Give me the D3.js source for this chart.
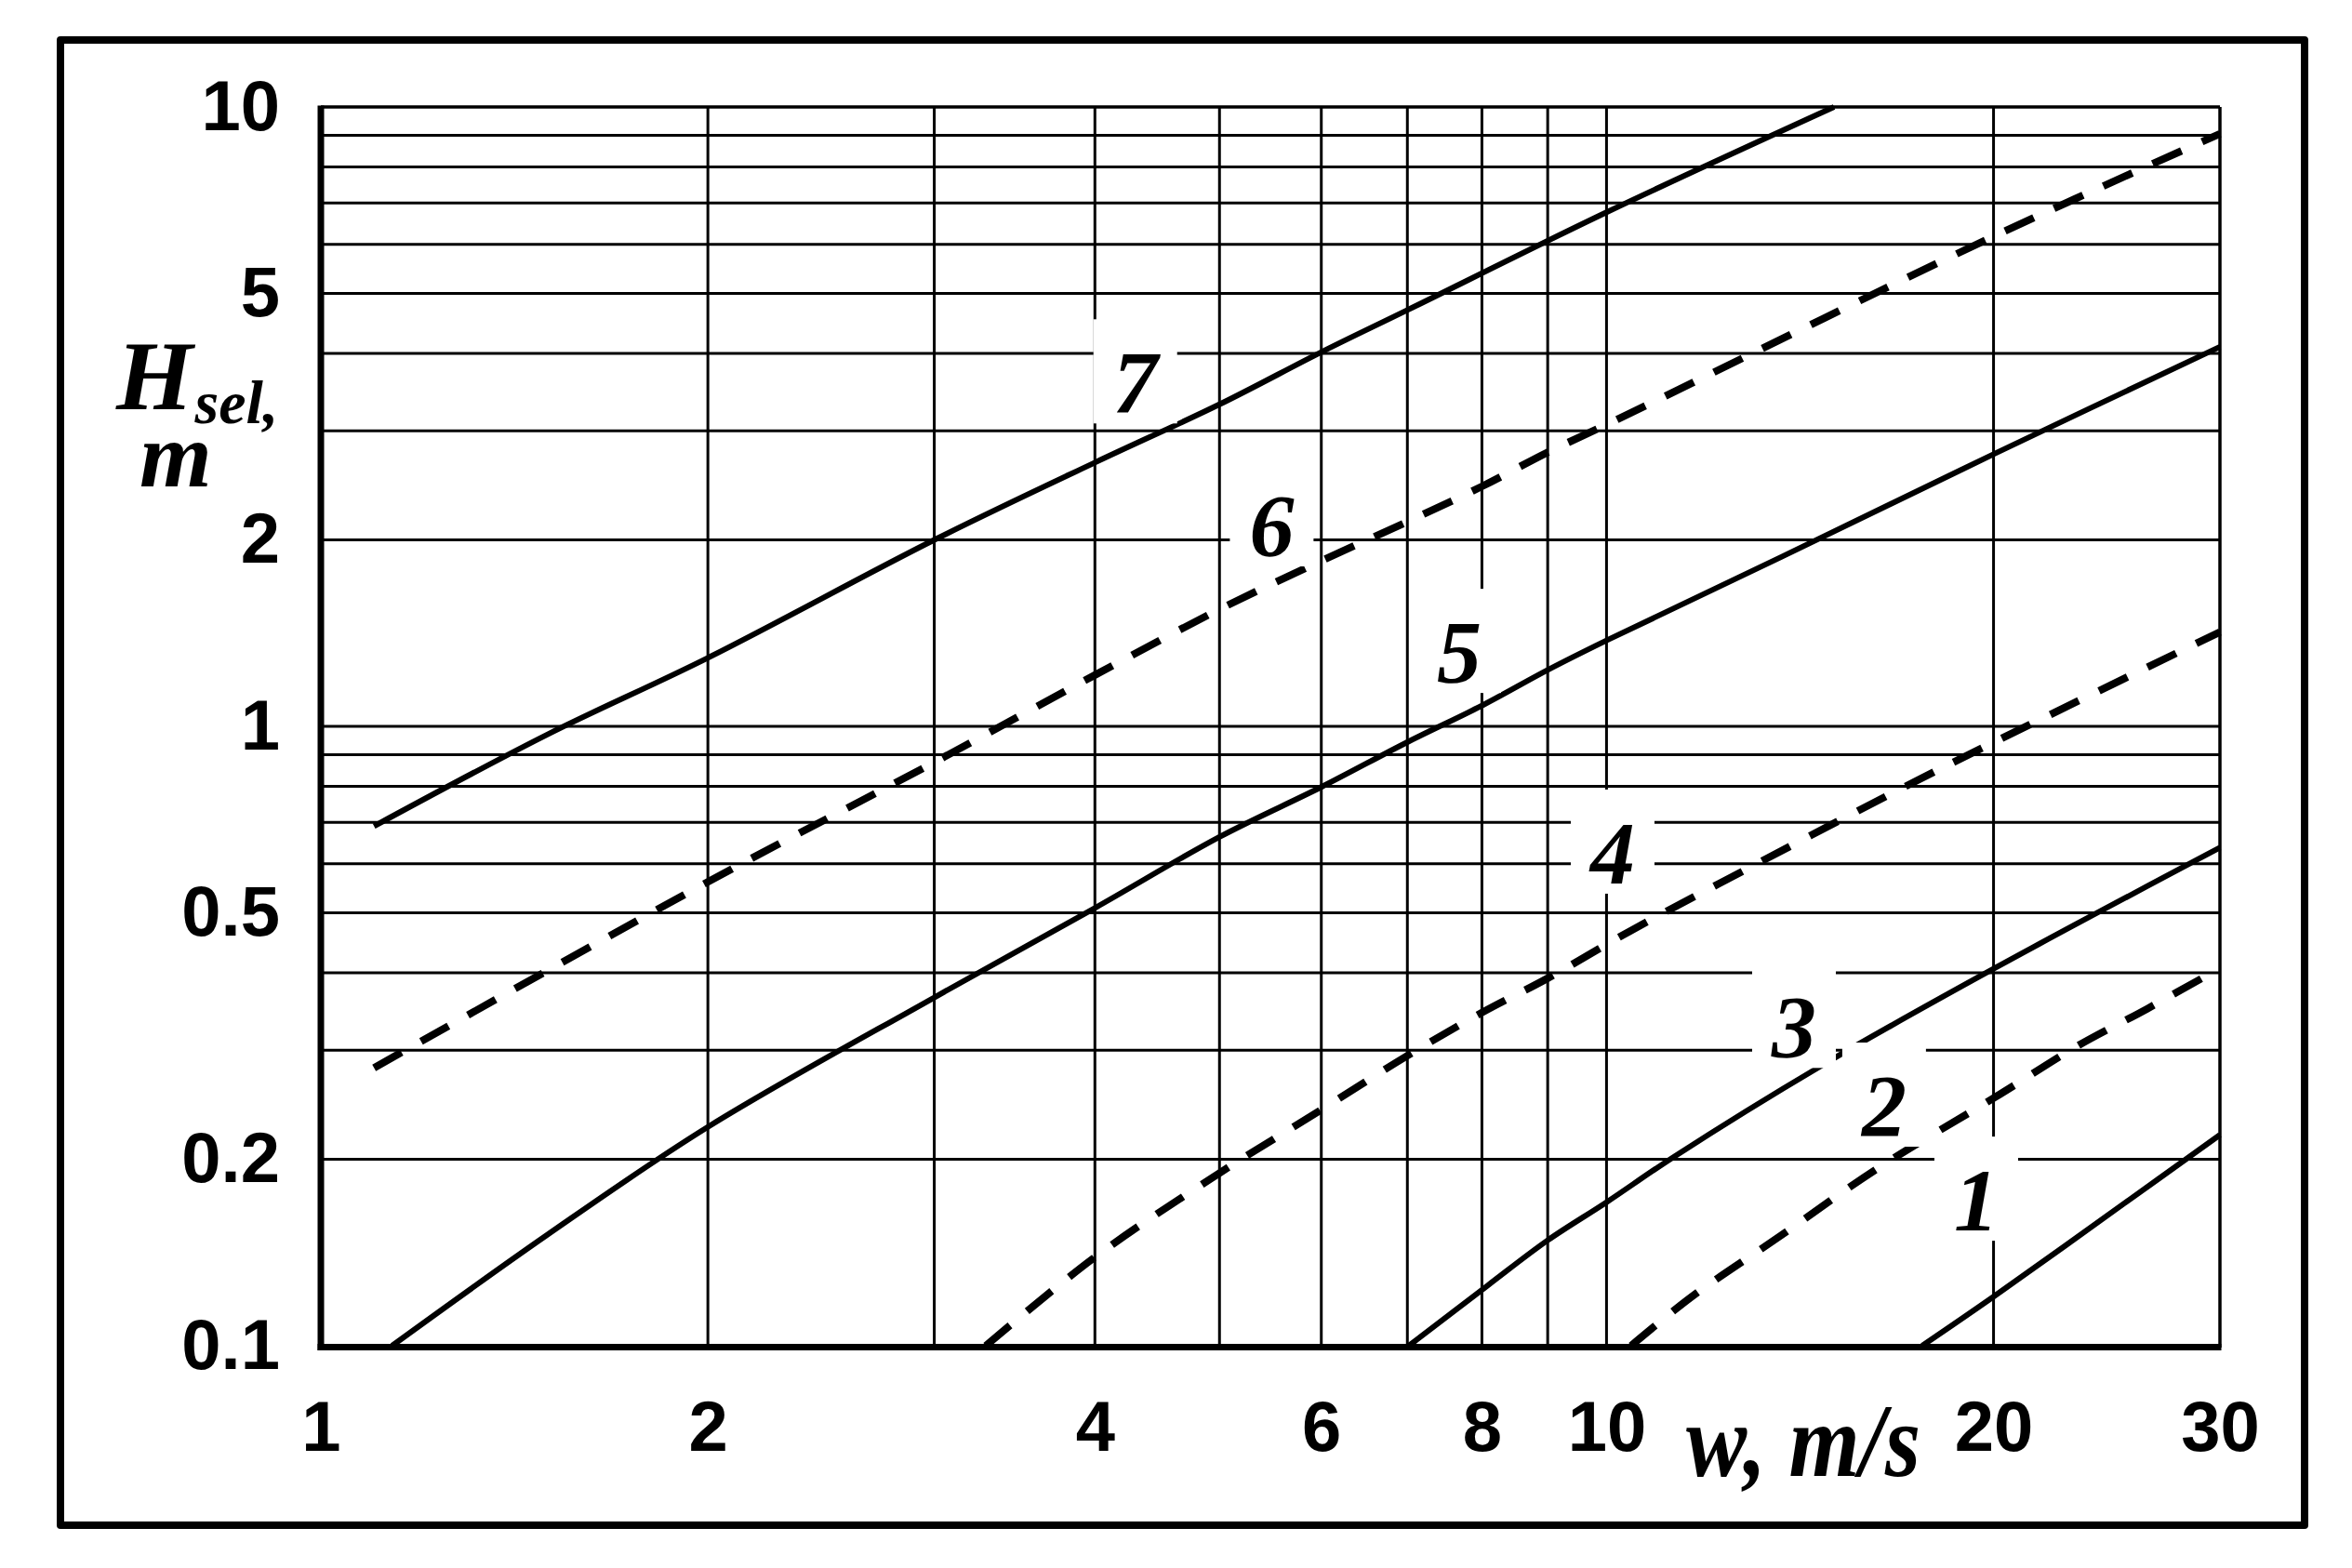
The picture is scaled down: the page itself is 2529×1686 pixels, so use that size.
<!DOCTYPE html>
<html><head><meta charset="utf-8">
<script src="https://cdn.jsdelivr.net/npm/d3@7"></script>
<style>body{margin:0;background:#fff;} svg{display:block;}</style>
</head><body>
<svg id="chart" width="2529" height="1686"></svg>
<script>
// Axis ticks and grid values
const wTicks = [1, 2, 4, 6, 8, 10, 20, 30];
const hTicks = [0.1, 0.2, 0.5, 1, 2, 5, 10];
const wGrid = [2, 3, 4, 5, 6, 7, 8, 9, 10, 20];
const hGrid = [0.2, 0.3, 0.4, 0.5, 0.6, 0.7, 0.8, 0.9, 1, 2, 3, 4, 5, 6, 7, 8, 9];

// Curves (w in m/s, H_sel in m)
const curve1W = [17.6, 20, 25, 30];
const curve1H = [0.1, 0.12, 0.167, 0.219];
const curve2W = [10.45, 11.65, 13.69, 16.23, 20.25, 23.2, 26.34, 30];
const curve2H = [0.1, 0.12, 0.151, 0.193, 0.255, 0.304, 0.35, 0.407];
const curve3W = [7.02, 8.09, 9, 10, 11.28, 14.66, 20, 30];
const curve3H = [0.1, 0.1253, 0.148, 0.1705, 0.2018, 0.2824, 0.406, 0.637];
const curve4W = [3.29, 4, 5, 6, 7, 8, 9, 10.43, 13.35, 17, 20, 30];
const curve4H = [0.1, 0.139, 0.19, 0.2404, 0.294, 0.345, 0.392, 0.467, 0.613, 0.796, 0.942, 1.42];
const curve5W = [1.136, 1.5, 2, 3, 4, 5, 6, 7, 8, 9, 10, 13.7, 20, 30];
const curve5H = [0.1, 0.151, 0.2255, 0.365, 0.509, 0.663, 0.798, 0.943, 1.08, 1.233, 1.376, 1.88, 2.75, 4.1];
const curve6W = [1.1, 2, 3, 4, 5, 6, 7, 8, 9, 10, 20, 30];
const curve6H = [0.281, 0.561, 0.875, 1.21, 1.545, 1.85, 2.14, 2.44, 2.77, 3.07, 6.18, 9.05];
const curve7W = [1.1, 1.5, 2, 3, 4, 5, 6, 7, 10, 15.03];
const curve7H = [0.69, 0.97, 1.29, 2.0, 2.666, 3.31, 4.02, 4.70, 6.76, 10];

const curveNames = ["1", "2", "3", "4", "5", "6", "7"];
const curveDashed = [false, true, false, true, false, true, false];
const labelW = [19.39, 16.44, 13.99, 10.11, 7.68, 5.49, 4.30];
const labelH = [0.172, 0.244, 0.327, 0.625, 1.318, 2.11, 3.59];

const curvesW = [curve1W, curve2W, curve3W, curve4W, curve5W, curve6W, curve7W];
const curvesH = [curve1H, curve2H, curve3H, curve4H, curve5H, curve6H, curve7H];

const svg = d3.select("#chart");
const x = d3.scaleLog().domain([1, 30]).range([345, 2387]);
const y = d3.scaleLog().domain([0.1, 10]).range([1447, 115]);

const sansFont = "'Liberation Sans', Arial, sans-serif";
const serifFont = "'Liberation Serif', 'Times New Roman', serif";

svg.append("rect").attr("x", 0).attr("y", 0).attr("width", 2529).attr("height", 1686).attr("fill", "#fff");

// outer frame
svg.append("rect").attr("x", 65).attr("y", 43).attr("width", 2413).attr("height", 1597)
  .attr("fill", "none").attr("stroke", "#000").attr("stroke-width", 8).attr("stroke-linejoin", "round");

// grid
const grid = svg.append("g").attr("stroke", "#000").attr("stroke-width", 3);
grid.selectAll("line.v").data(wGrid).join("line").attr("class", "v")
  .attr("x1", d => x(d)).attr("x2", d => x(d)).attr("y1", y(10)).attr("y2", y(0.1));
grid.selectAll("line.h").data(hGrid).join("line").attr("class", "h")
  .attr("x1", x(1)).attr("x2", x(30)).attr("y1", d => y(d)).attr("y2", d => y(d));

// plot borders
const [x0, x1] = x.range();
const [yb, yt] = y.range();
svg.append("line").attr("x1", x0).attr("x2", x1).attr("y1", yt).attr("y2", yt).attr("stroke", "#000").attr("stroke-width", 3.5);
svg.append("line").attr("x1", x1).attr("x2", x1).attr("y1", yt).attr("y2", yb + 2).attr("stroke", "#000").attr("stroke-width", 3.5);
svg.append("line").attr("x1", x0).attr("x2", x0).attr("y1", yt - 1.5).attr("y2", yb + 5).attr("stroke", "#000").attr("stroke-width", 7);
svg.append("line").attr("x1", x0 - 3.5).attr("x2", x1 + 1.5).attr("y1", yb + 1.5).attr("y2", yb + 1.5).attr("stroke", "#000").attr("stroke-width", 7);

// curves
const line = d3.line().x(d => x(d[0])).y(d => y(d[1])).curve(d3.curveCatmullRom.alpha(0.5));
const curveG = svg.append("g");
curvesW.forEach((ws, i) => {
  const pts = ws.map((w, j) => [w, curvesH[i][j]]);
  curveG.append("path").attr("d", line(pts)).attr("fill", "none").attr("stroke", "#000")
    .attr("stroke-width", curveDashed[i] ? 8 : 6)
    .attr("stroke-dasharray", curveDashed[i] ? "34,24" : null)
    .attr("stroke-linecap", "butt");
});

// curve labels with white boxes
const labG = svg.append("g");
curveNames.forEach((n, i) => {
  const cx = x(labelW[i]), cy = y(labelH[i]);
  labG.append("rect").attr("x", cx - 45).attr("y", cy - 68).attr("width", 90).attr("height", 112).attr("fill", "#fff");
  labG.append("text").attr("x", cx).attr("y", cy).attr("dy", "0.34em").attr("text-anchor", "middle")
    .attr("font-family", serifFont).attr("font-style", "italic").attr("font-weight", "bold")
    .attr("font-size", 96).attr("fill", "#000").text(n);
});

// axes tick labels
const yAxis = d3.axisLeft(y).tickValues(hTicks).tickFormat(d => String(d)).tickSize(0).tickPadding(44);
svg.append("g").attr("transform", `translate(${x0},0)`).call(yAxis)
  .call(g => g.select(".domain").remove())
  .attr("font-family", sansFont).attr("font-size", 76).attr("font-weight", "bold")
  .selectAll("text").attr("fill", "#000");

const xAxis = d3.axisBottom(x).tickValues(wTicks).tickFormat(d => String(d)).tickSize(0).tickPadding(59);
svg.append("g").attr("transform", `translate(0,${yb})`).call(xAxis)
  .call(g => g.select(".domain").remove())
  .attr("font-family", sansFont).attr("font-size", 76).attr("font-weight", "bold")
  .selectAll("text").attr("fill", "#000");

// axis titles
const tg = svg.append("g").attr("font-family", serifFont).attr("font-style", "italic").attr("font-weight", "bold").attr("fill", "#000");
const yTitle = tg.append("text").attr("x", 125).attr("y", 440);
yTitle.append("tspan").attr("font-size", 106).text("H");
yTitle.append("tspan").attr("font-size", 66).attr("dx", 2).attr("dy", 15).text("sel,");
yTitle.append("tspan").attr("font-size", 100).attr("x", 150).attr("y", 523).text("m");
tg.append("text").attr("x", 1813).attr("y", 1587).attr("font-size", 112)
  .attr("textLength", 252).attr("lengthAdjust", "spacingAndGlyphs").text("w, m/s");
</script>
</body></html>
